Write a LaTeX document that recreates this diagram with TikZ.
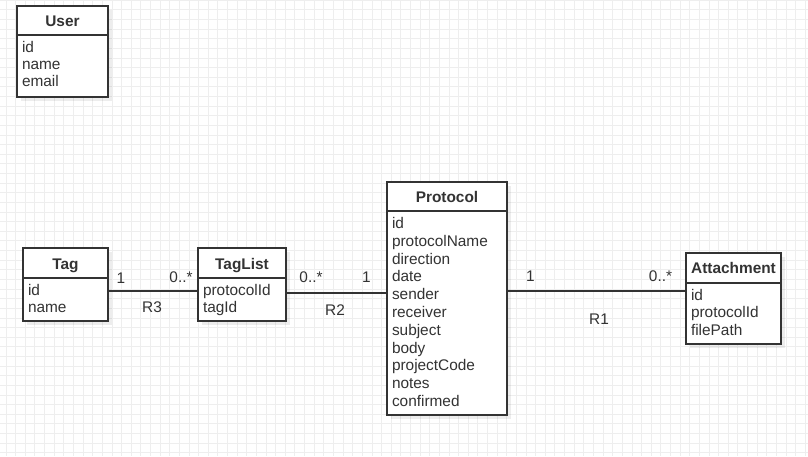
\documentclass[tikz,border=0pt]{standalone}
\usepackage{fontspec}
\setmainfont{Liberation Sans}
\usetikzlibrary{shadows}
\definecolor{ink}{HTML}{333333}
\definecolor{gridline}{HTML}{EEEEEE}

\begin{document}
\begin{tikzpicture}[x=1pt,y=-1pt,
  every node/.style={font=\fontsize{15.4}{17.7}\selectfont, text=ink, inner sep=0pt, outer sep=0pt},
  box/.style={draw=ink, line width=1.3pt, fill=white, rectangle,
    drop shadow={shadow xshift=3.5pt, shadow yshift=-3.5pt, fill=black, opacity=0.07}},
  divider/.style={draw=ink, line width=1.3pt},
  head/.style={anchor=base, font=\fontsize{15.4}{17.7}\selectfont\bfseries},
  attr/.style={anchor=base west},
  lbl/.style={anchor=base},
  conn/.style={draw=ink, line width=1.1pt}]

% canvas and grid
\useasboundingbox (0,0) rectangle (808,456);
\fill[white] (0,0) rectangle (808,456);
\foreach \k in {0,...,83} \draw[gridline, line width=0.7pt] (5.92+\k*9.63,0) -- (5.92+\k*9.63,456);
\foreach \k in {0,...,47} \draw[gridline, line width=0.7pt] (0,0.07+\k*9.63) -- (808,0.07+\k*9.63);

% User
\node[box, minimum width=91pt, minimum height=91pt] (user) at (62.5,51.5) {};
\draw[divider] (user.west |- 0,35) -- (user.east |- 0,35);
\node[head] (user-h) at (62.5,26) {User};
\foreach \t [count=\i from 0] in {id,name,email}
  \node[attr] (user-a\i) at (22,52.5+\i*17.2) {\t};

% Tag
\node[box, minimum width=85pt, minimum height=73pt] (tag) at (65.5,284.5) {};
\draw[divider] (tag.west |- 0,278) -- (tag.east |- 0,278);
\node[head] (tag-h) at (65.5,269) {Tag};
\foreach \t [count=\i from 0] in {id,name}
  \node[attr] (tag-a\i) at (28,295.5+\i*17.2) {\t};

% TagList
\node[box, minimum width=88pt, minimum height=73pt] (taglist) at (242,284.5) {};
\draw[divider] (taglist.west |- 0,278) -- (taglist.east |- 0,278);
\node[head] (taglist-h) at (242,269) {TagList};
\foreach \t [count=\i from 0] in {protocolId,tagId}
  \node[attr] (taglist-a\i) at (203,295.5+\i*17.2) {\t};

% Protocol
\node[box, minimum width=120pt, minimum height=233pt] (proto) at (447,298.5) {};
\draw[divider] (proto.west |- 0,211) -- (proto.east |- 0,211);
\node[head] (proto-h) at (447,202) {Protocol};
\foreach \t [count=\i from 0] in {id,protocolName,direction,date,sender,receiver,subject,body,projectCode,notes,confirmed}
  \node[attr] (proto-a\i) at (392,228.5+\i*17.8) {\t};

% Attachment
\node[box, minimum width=95pt, minimum height=91pt] (attach) at (733.5,298.5) {};
\draw[divider] (attach.west |- 0,283) -- (attach.east |- 0,283);
\node[head] (attach-h) at (733.5,273) {Attachment};
\foreach \t [count=\i from 0] in {id,protocolId,filePath}
  \node[attr] (attach-a\i) at (691,300+\i*17.5) {\t};

% association levels
\coordinate (r3) at (0,291);
\coordinate (r2) at (0,293);
\coordinate (r1) at (0,291);

% associations
\draw[conn] (tag.east |- r3) -- (taglist.west |- r3);
\draw[conn] (taglist.east |- r2) -- (proto.west |- r2);
\draw[conn] (proto.east |- r1) -- (attach.west |- r1);

% multiplicities and names
\node[lbl] (r3-a) at (121,283) {1};
\node[lbl] (r3-b) at (181,282) {0..*};
\node[lbl] (r3-n) at (152,312) {R3};
\node[lbl] (r2-a) at (311,282) {0..*};
\node[lbl] (r2-b) at (366.5,282) {1};
\node[lbl] (r2-n) at (335,315) {R2};
\node[lbl] (r1-a) at (530.5,281) {1};
\node[lbl] (r1-b) at (660.5,281) {0..*};
\node[lbl] (r1-n) at (599,324) {R1};
\end{tikzpicture}
\end{document}
